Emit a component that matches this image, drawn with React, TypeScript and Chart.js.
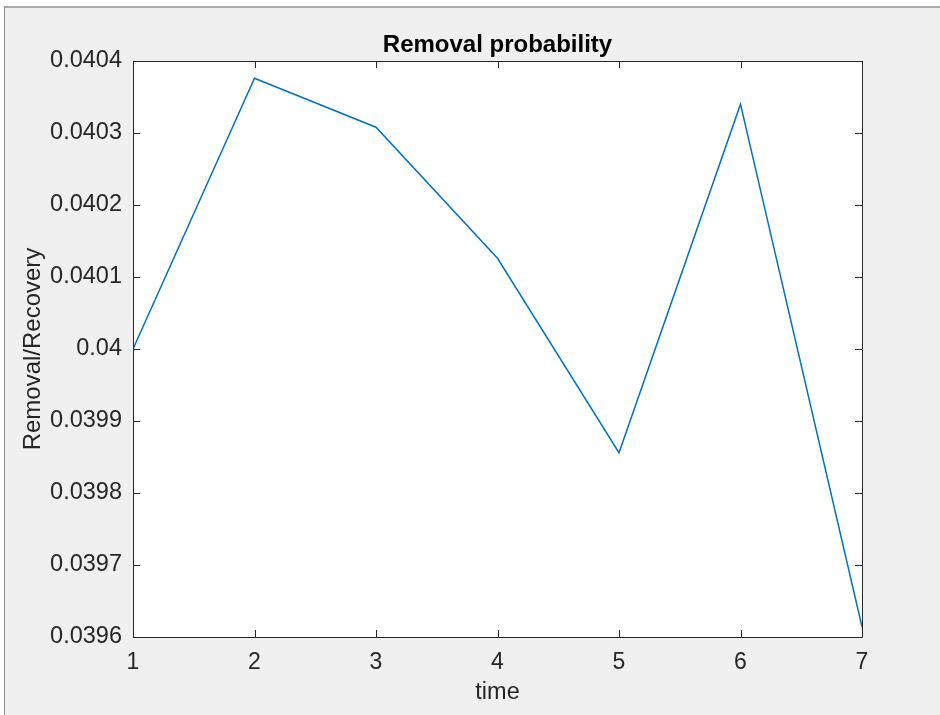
import React, { useEffect, useRef } from "react";
import { Chart, registerables } from "chart.js";

Chart.register(...registerables);

const times: number[] = [1, 2, 3, 4, 5, 6, 7];
const removal: number[] = [0.04, 0.040376, 0.040308, 0.040126, 0.039856, 0.04034, 0.039614];
const yTicks: number[] = [0.0396, 0.0397, 0.0398, 0.0399, 0.04, 0.0401, 0.0402, 0.0403, 0.0404];

const AXIS_COLOR = "#262626";
const LINE_COLOR = "#0072BD";
const FONT = "'Liberation Sans', Arial, Helvetica, sans-serif";

const framePlugin = {
  id: "matlabFrame",
  beforeDraw(chart: any) {
    const { ctx, chartArea } = chart;
    ctx.save();
    ctx.fillStyle = "#ffffff";
    ctx.fillRect(chartArea.left, chartArea.top, chartArea.right - chartArea.left, chartArea.bottom - chartArea.top);
    ctx.restore();
  },
  afterDraw(chart: any) {
    const { ctx, chartArea } = chart;
    const { left, right, top, bottom } = chartArea;
    const xs = chart.scales.x;
    const ys = chart.scales.y;
    const tl = 7;
    ctx.save();
    ctx.strokeStyle = AXIS_COLOR;
    ctx.lineWidth = 1;
    ctx.beginPath();
    ctx.rect(Math.round(left) + 0.5, Math.round(top) + 0.5, Math.round(right - left), Math.round(bottom - top));
    ctx.stroke();
    ctx.beginPath();
    times.forEach((t) => {
      const px = Math.round(xs.getPixelForValue(t)) + 0.5;
      ctx.moveTo(px, bottom);
      ctx.lineTo(px, bottom - tl);
      ctx.moveTo(px, top);
      ctx.lineTo(px, top + tl);
    });
    yTicks.forEach((v) => {
      const py = Math.round(ys.getPixelForValue(v)) + 0.5;
      ctx.moveTo(left, py);
      ctx.lineTo(left + tl, py);
      ctx.moveTo(right, py);
      ctx.lineTo(right - tl, py);
    });
    ctx.stroke();
    ctx.restore();
  },
};

export default function App() {
  const ref = useRef<HTMLCanvasElement | null>(null);

  useEffect(() => {
    if (!ref.current) return;
    Chart.defaults.font.family = FONT;
    Chart.defaults.color = AXIS_COLOR;
    const chart = new Chart(ref.current, {
      type: "line",
      data: {
        datasets: [
          {
            label: "Removal probability",
            data: times.map((t, i) => ({ x: t, y: removal[i] })),
            borderColor: LINE_COLOR,
            backgroundColor: LINE_COLOR,
            borderWidth: 1.5,
            pointRadius: 0,
            tension: 0,
            fill: false,
          },
        ],
      },
      options: {
        animation: false,
        responsive: false,
        maintainAspectRatio: false,
        layout: { padding: { left: 10, right: 78, top: 10, bottom: 0 } },
        plugins: {
          legend: { display: false },
          tooltip: { enabled: false },
          title: {
            display: true,
            text: "Removal probability",
            fullSize: false,
            color: "#000000",
            font: { size: 24, weight: "bold", family: FONT },
            padding: { top: 20.6, bottom: 1.6 },
          },
        },
        scales: {
          x: {
            type: "linear",
            min: 1,
            max: 7,
            grid: { display: false, drawTicks: false },
            border: { display: false },
            ticks: {
              stepSize: 1,
              padding: 12,
              maxRotation: 0,
              autoSkip: false,
              font: { size: 23, family: FONT },
              color: AXIS_COLOR,
            },
            title: {
              display: true,
              text: "time",
              font: { size: 23.5, family: FONT },
              color: AXIS_COLOR,
              padding: { top: 0, bottom: 8 },
            },
            afterFit: (scale: any) => {
              scale.height = 78;
            },
          },
          y: {
            type: "linear",
            min: 0.0396,
            max: 0.0404,
            grid: { display: false, drawTicks: false },
            border: { display: false },
            afterBuildTicks: (scale: any) => {
              scale.ticks = yTicks.map((v) => ({ value: v }));
            },
            ticks: {
              padding: 11,
              font: { size: 23.5, family: FONT },
              color: AXIS_COLOR,
              callback: (v: any) => String(Number(Number(v).toFixed(4))),
            },
            title: {
              display: true,
              text: "Removal/Recovery",
              font: { size: 24, family: FONT },
              color: AXIS_COLOR,
              padding: { top: 8.6, bottom: 0 },
            },
            afterFit: (scale: any) => {
              scale.width = 123;
            },
          },
        },
      },
      plugins: [framePlugin],
    } as any);
    return () => chart.destroy();
  }, []);

  return (
    <div style={{ position: "fixed", left: 0, top: 0, width: 940, height: 715, background: "#ffffff", overflow: "hidden" }}>
      <div
        style={{
          position: "absolute",
          left: 4,
          top: 6,
          width: 936,
          height: 709,
          background: "#f0f0f0",
          borderTop: "2px solid #a9a9a9",
          borderLeft: "1px solid #8c8c8c",
          boxSizing: "border-box",
        }}
      />
      <canvas ref={ref} width={940} height={715} style={{ position: "absolute", left: 0, top: 0, width: 940, height: 715 }} />
    </div>
  );
}
